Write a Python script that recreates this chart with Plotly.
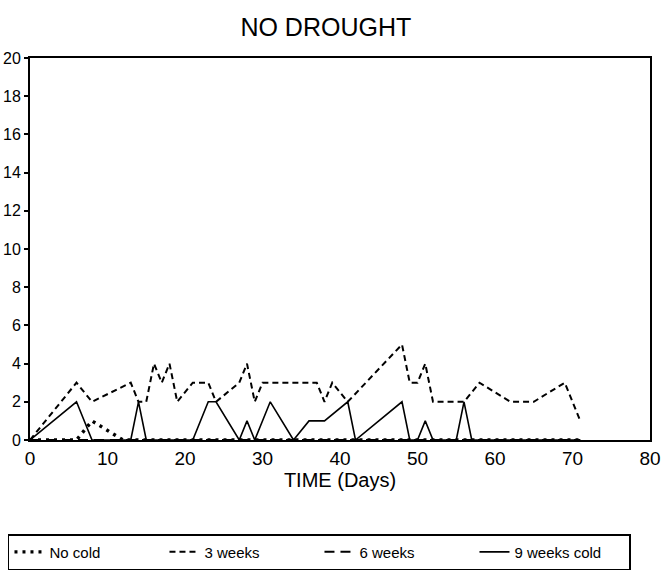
import plotly.graph_objects as go

# Data
days_nocold = [0, 6, 8, 12, 71]
vals_nocold = [0, 0, 1, 0, 0]

days_3w = [0, 6, 8, 13, 14, 15, 16, 17, 18, 19, 21, 23, 24, 27, 28, 29, 30, 37, 38, 39, 41, 48, 49, 50, 51, 52, 56, 58, 62, 65, 69, 71]
vals_3w = [0, 3, 2, 3, 2, 2, 4, 3, 4, 2, 3, 3, 2, 3, 4, 2, 3, 3, 2, 3, 2, 5, 3, 3, 4, 2, 2, 3, 2, 2, 3, 1]

days_6w = [0, 71]
vals_6w = [0, 0]

days_9w = [0, 6, 8, 13, 14, 15, 21, 23, 24, 27, 28, 29, 31, 34, 36, 38, 41, 42, 48, 49, 50, 51, 52, 55, 56, 57, 71]
vals_9w = [0, 2, 0, 0, 2, 0, 0, 2, 2, 0, 1, 0, 2, 0, 1, 1, 2, 0, 2, 0, 0, 1, 0, 0, 2, 0, 0]

series_names = ["No cold", "3 weeks", "6 weeks", "9 weeks cold"]

FONT = "Liberation Sans, Arial, sans-serif"

fig = go.Figure()
fig.add_trace(go.Scatter(x=days_6w, y=vals_6w, mode="lines", name=series_names[2],
                         line=dict(color="black", width=2, dash="10px,6px")))
fig.add_trace(go.Scatter(x=days_9w, y=vals_9w, mode="lines", name=series_names[3],
                         line=dict(color="black", width=1.6)))
fig.add_trace(go.Scatter(x=days_3w, y=vals_3w, mode="lines", name=series_names[1],
                         line=dict(color="black", width=2, dash="6px,4px")))
fig.add_trace(go.Scatter(x=days_nocold, y=vals_nocold, mode="lines", name=series_names[0],
                         line=dict(color="black", width=3.4, dash="3px,5px")))

fig.update_layout(
    width=665, height=570,
    margin=dict(l=30, r=15, t=58, b=130),
    paper_bgcolor="white", plot_bgcolor="white",
    font=dict(family=FONT, color="black", size=16),
    title=dict(text="NO DROUGHT", x=0.49, xref="container", xanchor="center",
               y=0.953, yanchor="middle",
               font=dict(size=25, family=FONT, color="black")),
    xaxis=dict(range=[0, 80], dtick=10, tick0=0, showgrid=False, zeroline=False,
               showline=True, linecolor="black", linewidth=2, mirror=True,
               ticks="", tickfont=dict(size=19), automargin=False,
               title=dict(text="TIME (Days)", font=dict(size=20), standoff=0)),
    yaxis=dict(range=[0, 20], dtick=2, tick0=0, showgrid=False, zeroline=False,
               showline=True, linecolor="black", linewidth=2, mirror=True,
               ticks="outside", ticklen=4, tickwidth=1.5, tickcolor="black",
               tickfont=dict(size=16), automargin=False),
    legend=dict(orientation="h", xref="container", yref="container",
                x=0.012, xanchor="left", y=0.063, yanchor="top",
                bordercolor="black", borderwidth=1.5, bgcolor="white",
                font=dict(size=15, family=FONT), traceorder="normal",
                entrywidth=110, entrywidthmode="pixels"),
    showlegend=True,
)

for i, nm in enumerate(series_names):
    for tr in fig.data:
        if tr.name == nm:
            tr.legendrank = i + 1

fig.write_html("out.html")
